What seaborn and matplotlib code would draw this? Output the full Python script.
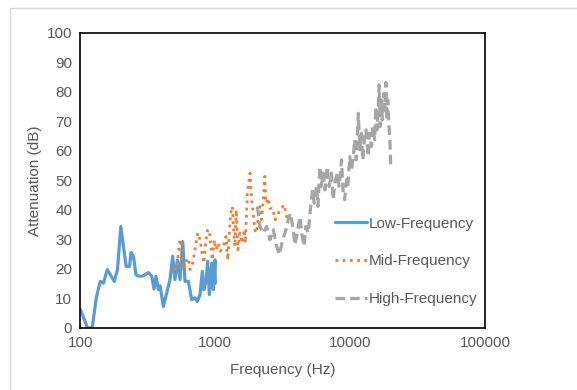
import numpy as np
import pandas as pd
import seaborn as sns
import matplotlib.pyplot as plt
from matplotlib.ticker import MultipleLocator, LogLocator, FixedLocator
from matplotlib.patches import Rectangle

# values (Hz, dB)
low_f = [100, 113, 122, 131, 140, 148, 158, 178, 188, 199, 218, 231, 237, 247, 258,
         277, 293, 319, 338, 351, 363, 378, 389, 412, 436, 461, 483, 502, 523, 547,
         573, 596, 631, 668, 706, 734, 770, 801, 822, 853, 877, 903, 940, 967, 994, 1000]
low_db = [6.2, 0, 0, 10.2, 15.8, 15.2, 19.8, 15.8, 19.8, 34.4, 20.9, 20.9, 25.6, 24.3, 18,
          17.5, 17.7, 18.8, 17.5, 13.2, 17.5, 13, 14.3, 7.3, 11.9, 16.4, 24.3, 16.4, 23.1, 16.4,
          29.3, 15.8, 15.8, 9.6, 10.2, 9, 11.3, 19.2, 13, 15.8, 22.6, 11.3, 22, 13, 23.1, 15.2]

mid_f = [489, 517, 532, 547, 563, 573, 589, 606, 631, 649, 679, 706, 740, 770, 801,
         822, 848, 873, 903, 924, 950, 983, 1012, 1053, 1090, 1147, 1200, 1236, 1270, 1300,
         1338, 1360, 1398, 1430, 1470, 1520, 1580, 1640, 1670, 1726, 1775, 1810, 1860, 1910,
         1960, 2020, 2080, 2140, 2200, 2270, 2330, 2370, 2470, 2540, 2670, 2770, 2930, 3100,
         3230, 3340, 3430]
mid_db = [20, 20, 25.4, 30.1, 27.7, 20.9, 19.8, 22.6, 23.7, 19.8, 22, 26.5, 32.2, 29.9, 24.8,
          22, 28.8, 33, 33.3, 27.7, 23.1, 29.9, 26.5, 28.8, 26, 27.7, 31, 23.1, 32.2, 38.9,
          41.2, 34.4, 27.7, 40, 26.5, 32.2, 28.8, 33.3, 28.8, 45.7, 49.7, 52.5, 43.5, 38.9,
          33.3, 32.2, 37.8, 41.2, 36.7, 43.5, 51.4, 42.3, 44, 40.6, 40.6, 36.7, 38.9, 40.6,
          41.8, 38.9, 36.1]

high_f = [2050, 2140, 2270, 2400, 2540, 2690, 2850, 2980, 3160, 3340, 3470, 3600, 3780, 3890,
          4050, 4240, 4370, 4540, 4690, 4890, 5090, 5260, 5410, 5630, 5770, 5960, 6100, 6310,
          6500, 6760, 6980, 7270, 7480, 7700, 8010, 8270, 8630, 8870, 9100, 9400, 9600, 9940,
          10200, 10500, 10800, 11100, 11500, 11800, 12100, 12400, 12800, 13100, 13600, 13900,
          14400, 14700, 15200, 15500, 15800, 16100, 16400, 16700, 17100, 17300, 17800, 18100,
          18400, 18700, 19000, 19400, 19700, 20000]
high_db = [41.2, 34.4, 32.2, 34.4, 29.9, 33.3, 27.7, 24.8, 29.9, 33.3, 36.7, 38.9, 33.3, 28.2,
           32.2, 37.8, 32.2, 27.7, 34.4, 32.2, 41.2, 46.8, 42.3, 48, 41.2, 54.7, 48, 52.5,
           46.8, 54.7, 48, 52.5, 43.5, 49.1, 52.5, 48, 57, 45.7, 43.5, 50.2, 48, 58.1,
           53.6, 57, 63.8, 57, 72.8, 60.4, 66, 57, 64.9, 67.2, 58.1, 66,
           61.5, 68.3, 63.8, 75, 67.2, 72.8, 82.4, 68.3, 77.3, 70.5, 79.6, 73.9,
           83.2, 70.5, 77.3, 68.3, 63.8, 54.7]

sns.set_style("white")
plt.rcParams['font.family'] = ['Liberation Sans', 'DejaVu Sans']
grey_txt = "#595959"

fig = plt.figure(figsize=(5.77, 3.9), dpi=100)
ax = fig.add_axes([0.1395, 0.159, 0.7011, 0.7564])
fig.patches.append(Rectangle((10 / 577, -0.01), 1.0, 1 - 8 / 390 + 0.01,
                             transform=fig.transFigure, fill=False,
                             edgecolor="#D9D9D9", linewidth=1))

sns.lineplot(x=low_f, y=low_db, ax=ax, color="#5B9BD5", linewidth=2.3,
             label="Low-Frequency")
sns.lineplot(x=mid_f, y=mid_db, ax=ax, color="#ED7D31", linewidth=2.0,
             linestyle=(0, (1, 1.6)), label="Mid-Frequency")
sns.lineplot(x=high_f, y=high_db, ax=ax, color="#A5A5A5", linewidth=2.3,
             linestyle=(0, (3, 1.6)), label="High-Frequency")

ax.set_xscale("log")
ax.set_xlim(100, 100000)
ax.set_ylim(0, 100)
ax.yaxis.set_major_locator(MultipleLocator(10))
ax.yaxis.set_minor_locator(MultipleLocator(2))
ax.xaxis.set_major_locator(FixedLocator([100, 1000, 10000, 100000]))
ax.xaxis.set_minor_locator(LogLocator(base=10, subs=np.arange(2, 10)))
ax.set_xticklabels(["100", "1000", "10000", "100000"])

ax.tick_params(axis="both", which="major", direction="in", length=4, width=1,
               color="#404040", labelsize=11, labelcolor=grey_txt, pad=6)
ax.tick_params(axis="both", which="minor", direction="in", length=3, width=0.8,
               color="#404040")
for s in ax.spines.values():
    s.set_color("black")
    s.set_linewidth(1.2)

ax.set_xlabel("Frequency (Hz)", fontsize=11, color=grey_txt, labelpad=9)
ax.set_ylabel("Attenuation (dB)", fontsize=11, color=grey_txt, labelpad=3)

leg = ax.legend(loc="upper left", bbox_to_anchor=(0.615, 0.398), frameon=False,
                fontsize=11, handlelength=2.1, handletextpad=0.1,
                labelspacing=1.55, borderaxespad=0)
for t in leg.get_texts():
    t.set_color(grey_txt)

fig.savefig("out.png", dpi=100)
